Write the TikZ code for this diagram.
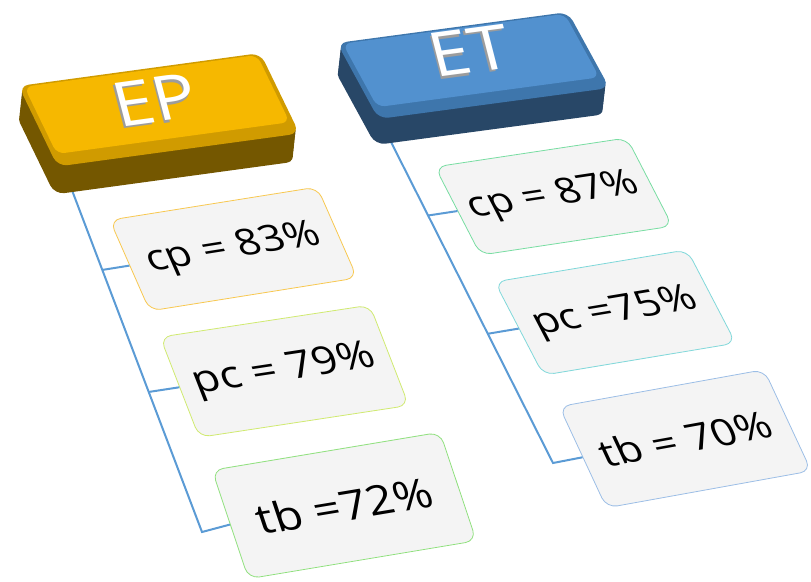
\documentclass[tikz,border=0pt]{standalone}
\usepackage{fontspec}
\setmainfont{Open Sans}
\usepackage{graphicx}

\definecolor{epgold}{HTML}{F6B800}
\definecolor{epbevel}{HTML}{D09B00}
\definecolor{epside}{HTML}{745700}
\definecolor{etblue}{HTML}{5291CF}
\definecolor{etbevel}{HTML}{3E76AC}
\definecolor{etside}{HTML}{284767}
\definecolor{branch}{HTML}{5B9BD5}
\definecolor{cardfill}{HTML}{F4F4F4}
\definecolor{rimA}{HTML}{F8C850}
\definecolor{rimB}{HTML}{D0EA70}
\definecolor{rimC}{HTML}{90E07E}
\definecolor{rimD}{HTML}{78DDA2}
\definecolor{rimE}{HTML}{80D8DA}
\definecolor{rimF}{HTML}{9CBEE6}
\definecolor{letterside}{HTML}{9C9C9C}

% card and header texts are squeezed a little; header letters get a grey edge
\newcommand{\cardval}[2]{\fontsize{#1}{#1}\selectfont\scalebox{1}[0.88]{#2}}
\newcommand{\headval}[1]{\fontsize{72}{72}\selectfont\scalebox{1}[0.86]{%
  \makebox[0pt][l]{\hspace{-2pt}\raisebox{-2.5pt}{\color{letterside}#1}}%
  #1}}

\begin{document}
\begin{tikzpicture}[
  x=1pt, y=-1pt,
  card/.style={draw, fill=cardfill, rounded corners=11pt, line width=0.8pt,
    inner sep=0pt, text=black},
  link/.style={draw=branch, line width=2pt},
  head/.style={inner sep=0pt, text=white}]

  \useasboundingbox (0,0) rectangle (811,581);

  % EP cards
  \node[card, draw=rimA, rotate=9.06, xslant=-0.262, minimum width=210, minimum height=96]
    (cp83) at (233.5,249) {\cardval{42}{cp = 83\%}};
  \node[card, draw=rimB, rotate=8.66, xslant=-0.223, minimum width=212, minimum height=105]
    (pc79) at (284.5,371.25) {\cardval{44}{pc = 79\%}};
  \node[card, draw=rimC, rotate=9.46, xslant=-0.159, minimum width=231, minimum height=113]
    (tb72) at (344.25,505.5) {\cardval{47}{tb =72\%}};

  % ET cards
  \node[card, draw=rimD, rotate=8.59, xslant=-0.339, minimum width=194, minimum height=94]
    (cp87) at (553.75,196.5) {\cardval{41}{cp = 87\%}};
  \node[card, draw=rimE, rotate=9.46, xslant=-0.326, minimum width=195, minimum height=100]
    (pc75) at (615.25,312.5) {\cardval{42}{pc =75\%}};
  \node[card, draw=rimF, rotate=10.23, xslant=-0.263, minimum width=208, minimum height=108]
    (tb70) at (685.25,438.75) {\cardval{43}{tb = 70\%}};

  % trunks and stubs
  \coordinate (ep-top) at (70,185);
  \coordinate (ep-bot) at (202,532);
  \coordinate (et-top) at (390,140);
  \coordinate (et-bot) at (553,463);

  \draw[link] (ep-top) -- (ep-bot) -- (tb72.west);
  \draw[link] (intersection of ep-top--ep-bot and cp83.west--cp83.east) -- (cp83.west);
  \draw[link] (intersection of ep-top--ep-bot and pc79.west--pc79.east) -- (pc79.west);

  \draw[link] (et-top) -- (et-bot) -- (tb70.west);
  \draw[link] (intersection of et-top--et-bot and cp87.west--cp87.east) -- (cp87.west);
  \draw[link] (intersection of et-top--et-bot and pc75.west--pc75.east) -- (pc75.west);

  % EP header block
  \begin{scope}[shift={(159,109.75)}, rotate=7.77, xslant=-0.327]
    \foreach \k in {10,9,...,1}
      \fill[epside, rounded corners=10pt] ([shift={(-1.57*\k,2.73*\k)}]-122,-42.5) rectangle ++(244,85);
    \fill[epbevel, rounded corners=10pt] (-122,-42.5) rectangle (122,42.5);
    \fill[epgold, rounded corners=8pt] (-117,-41) rectangle (118,30);
  \end{scope}

  % ET header block
  \begin{scope}[shift={(473.25,65.5)}, rotate=7.64, xslant=-0.384]
    \foreach \k in {10,9,...,1}
      \fill[etside, rounded corners=10pt] ([shift={(-1.62*\k,2.54*\k)}]-116.5,-40.4) rectangle ++(233,80.8);
    \fill[etbevel, rounded corners=10pt] (-116.5,-40.4) rectangle (116.5,40.4);
    \fill[etblue, rounded corners=8pt] (-111.5,-39) rectangle (112.5,28.5);
  \end{scope}

  % header labels
  \node[head, rotate=7.8, xslant=-0.12] (ep) at (155,101) {\headval{EP}};
  \node[head, rotate=7.6, xslant=-0.12] (et) at (470,52) {\headval{ET}};
\end{tikzpicture}
\end{document}
